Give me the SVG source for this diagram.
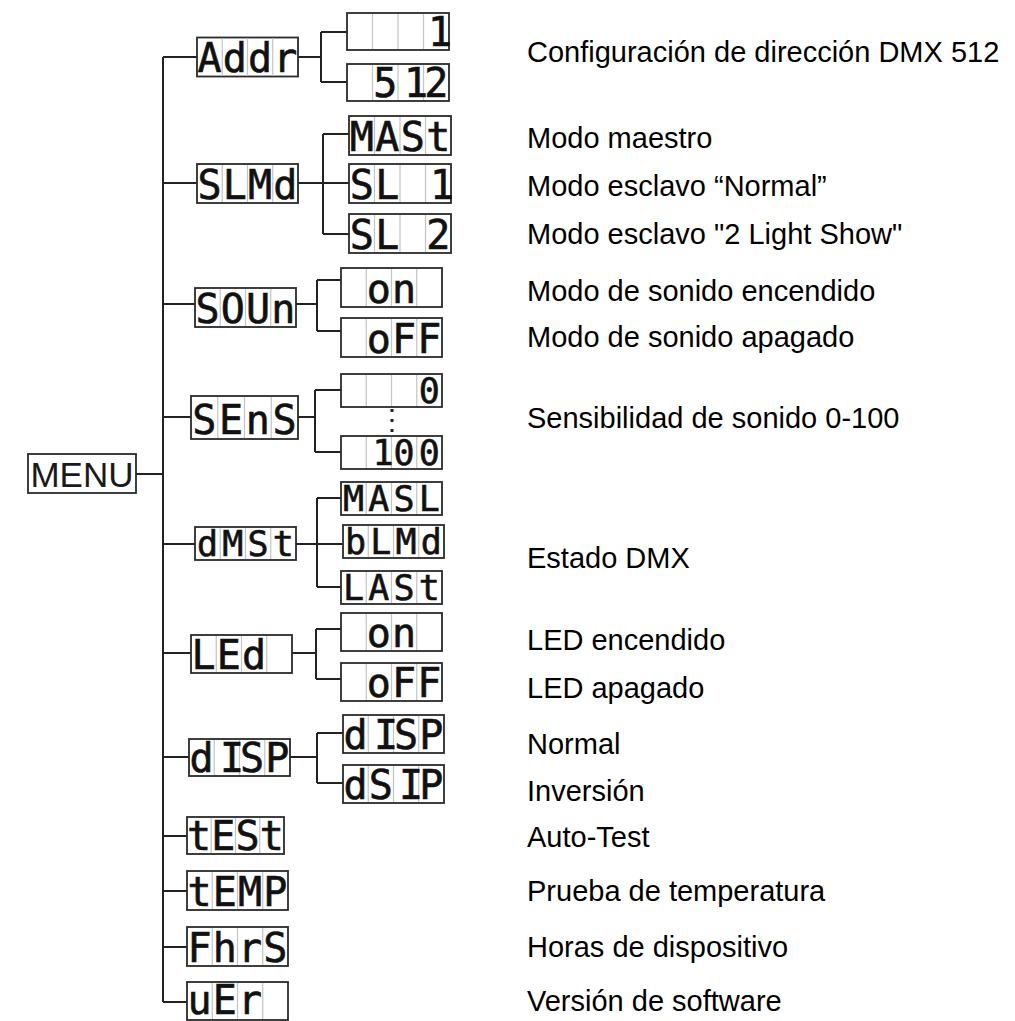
<svg xmlns="http://www.w3.org/2000/svg" width="1015" height="1021" viewBox="0 0 1015 1021">
<style>
.bx{fill:#fff;stroke:#2a2a2a;stroke-width:1.8}
.dv{stroke:#c4c4c4;stroke-width:1.2}
.seg{font-family:"DejaVu Sans Mono","Liberation Mono",monospace;font-size:40px;text-anchor:middle;fill:#111;stroke:#111;stroke-width:0.6}
.sm{font-size:35px}
.cn{fill:none;stroke:#222;stroke-width:2}
.lbl{font-family:"Liberation Sans",Arial,sans-serif;font-size:29px;fill:#000}
.menu{font-family:"Liberation Sans",Arial,sans-serif;font-size:35px;fill:#1a1a1a;text-anchor:middle}
</style>
<rect width="1015" height="1021" fill="#fff"/>
<g id="connectors">
<path class="cn" d="M163,57V1002M136,474H163M163,57H197M163,183H197M163,304H195M163,417H191M163,544H195M163,653H191M163,757H189M163,836H187M163,891H187M163,947H187M163,1002H187"/>
<path class="cn" d="M298,57H321M321,32V82M321,32H347M321,82H347"/>
<path class="cn" d="M298,183H349M323,134V234M323,134H349M323,234H349"/>
<path class="cn" d="M296,304H317M317,280V331M317,280H341M317,331H341"/>
<path class="cn" d="M298,417H315M315,390V452M315,390H341M315,452H341"/>
<path class="cn" d="M296,544H343M317,498V587M317,498H341M317,587H341"/>
<path class="cn" d="M292,653H316M316,629V679M316,629H341M316,679H341"/>
<path class="cn" d="M290,757H317M317,733V783M317,733H343M317,783H343"/>
<rect x="390.5" y="409" width="3" height="3" fill="#222"/>
<rect x="390.5" y="419" width="3" height="3" fill="#222"/>
<rect x="390.5" y="429" width="3" height="3" fill="#222"/>
</g>
<g id="menu"><rect class="bx" x="28" y="454" width="108" height="39"/><text class="menu" x="82" y="487">MENU</text></g>
<g id="addr"><rect class="bx" x="197" y="37.5" width="101" height="39"/><path class="dv" d="M222.25,38V76M247.5,38V76M272.75,38V76"/><text class="seg" x="209.6 234.9 260.1 285.4" y="72">Addr</text></g>
<g id="addr-1"><rect class="bx" x="347" y="13" width="102" height="37"/><path class="dv" d="M372.5,14V49M398,14V49M423.5,14V49"/><text class="seg" x="440" y="46">1</text></g>
<g id="addr-512"><rect class="bx" x="347" y="64" width="102" height="37"/><path class="dv" d="M372.5,65V100M398,65V100M423.5,65V100"/><text class="seg" x="385.25 416 436.25" y="97">512</text></g>
<g id="slmd"><rect class="bx" x="197" y="164" width="101" height="39"/><path class="dv" d="M222.25,165V202M247.5,165V202M272.75,165V202"/><text class="seg" x="209.6 234.9 260.1 285.4" y="199">SLMd</text></g>
<g id="mast"><rect class="bx" x="349" y="116" width="102" height="39"/><path class="dv" d="M374.5,117V154M400,117V154M425.5,117V154"/><text class="seg" x="361.75 387.25 412.75 438.25" y="151">MASt</text></g>
<g id="sl1"><rect class="bx" x="349" y="164" width="102" height="39"/><path class="dv" d="M374.5,165V202M400,165V202M425.5,165V202"/><text class="seg" xml:space="preserve" x="361.75 387.25 412.75 442" y="199">SL 1</text></g>
<g id="sl2"><rect class="bx" x="349" y="214" width="102" height="39"/><path class="dv" d="M374.5,215V252M400,215V252M425.5,215V252"/><text class="seg" xml:space="preserve" x="361.75 387.25 412.75 438.25" y="249">SL 2</text></g>
<g id="soun"><rect class="bx" x="195" y="288" width="101" height="39"/><path class="dv" d="M220.25,289V326M245.5,289V326M270.75,289V326"/><text class="seg" x="207.6 232.9 258.1 283.4" y="323">SOUn</text></g>
<g id="soun-on"><rect class="bx" x="341" y="268" width="101" height="39"/><path class="dv" d="M366.25,269V306M391.5,269V306M416.75,269V306"/><text class="seg" x="378.9 404.1" y="303">on</text></g>
<g id="soun-off"><rect class="bx" x="341" y="318" width="101" height="39"/><path class="dv" d="M366.25,319V356M391.5,319V356M416.75,319V356"/><text class="seg" x="378.9 404.1 429.4" y="353">oFF</text></g>
<g id="sens"><rect class="bx" x="191" y="396" width="107" height="43"/><path class="dv" d="M217.75,397V438M244.5,397V438M271.25,397V438"/><text class="seg" x="204.4 231.1 257.9 284.6" y="434">SEnS</text></g>
<g id="sens-0"><rect class="bx" x="341" y="374" width="101" height="33"/><path class="dv" d="M366.25,375V406M391.5,375V406M416.75,375V406"/><text class="seg sm" x="429.4" y="403">0</text></g>
<g id="sens-100"><rect class="bx" x="341" y="436" width="101" height="33"/><path class="dv" d="M366.25,437V468M391.5,437V468M416.75,437V468"/><text class="seg sm" x="383 404.1 429.4" y="465">100</text></g>
<g id="dmst"><rect class="bx" x="195" y="527" width="101" height="33"/><path class="dv" d="M220.25,528V559M245.5,528V559M270.75,528V559"/><text class="seg sm" x="207.6 232.9 258.1 283.4" y="556">dMSt</text></g>
<g id="masl"><rect class="bx" x="341" y="482" width="101" height="33"/><path class="dv" d="M366.25,483V514M391.5,483V514M416.75,483V514"/><text class="seg sm" x="353.6 378.9 404.1 429.4" y="511">MASL</text></g>
<g id="blmd"><rect class="bx" x="343" y="525" width="101" height="33"/><path class="dv" d="M368.25,526V557M393.5,526V557M418.75,526V557"/><text class="seg sm" x="355.6 380.9 406.1 431.4" y="554">bLMd</text></g>
<g id="last"><rect class="bx" x="341" y="571" width="101" height="33"/><path class="dv" d="M366.25,572V603M391.5,572V603M416.75,572V603"/><text class="seg sm" x="353.6 378.9 404.1 429.4" y="600">LASt</text></g>
<g id="led"><rect class="bx" x="191" y="635" width="101" height="38"/><path class="dv" d="M216.25,636V672M241.5,636V672M266.75,636V672"/><text class="seg" x="203.6 228.9 254.1" y="669">LEd</text></g>
<g id="led-on"><rect class="bx" x="341" y="613" width="101" height="38"/><path class="dv" d="M366.25,614V650M391.5,614V650M416.75,614V650"/><text class="seg" x="378.9 404.1" y="647">on</text></g>
<g id="led-off"><rect class="bx" x="341" y="663" width="101" height="38"/><path class="dv" d="M366.25,664V700M391.5,664V700M416.75,664V700"/><text class="seg" x="378.9 404.1 429.4" y="697">oFF</text></g>
<g id="disp"><rect class="bx" x="189" y="739" width="101" height="37"/><path class="dv" d="M214.25,740V775M239.5,740V775M264.75,740V775"/><text class="seg" x="201.6 232 252.1 277.4" y="772">dISP</text></g>
<g id="disp-normal"><rect class="bx" x="343" y="715" width="101" height="38"/><path class="dv" d="M368.25,716V752M393.5,716V752M418.75,716V752"/><text class="seg" x="355.6 386 406.1 431.4" y="749">dISP</text></g>
<g id="disp-inv"><rect class="bx" x="343" y="765" width="101" height="38"/><path class="dv" d="M368.25,766V802M393.5,766V802M418.75,766V802"/><text class="seg" x="355.6 380.9 411 431.4" y="799">dSIP</text></g>
<g id="test"><rect class="bx" x="187" y="817" width="97" height="37"/><path class="dv" d="M211.25,818V853M235.5,818V853M259.75,818V853"/><text class="seg" x="199.1 223.4 247.6 271.9" y="850">tESt</text></g>
<g id="temp"><rect class="bx" x="187" y="871" width="101" height="39"/><path class="dv" d="M212.25,872V909M237.5,872V909M262.75,872V909"/><text class="seg" x="199.6 224.9 250.1 275.4" y="906">tEMP</text></g>
<g id="fhrs"><rect class="bx" x="187" y="927" width="101" height="39"/><path class="dv" d="M212.25,928V965M237.5,928V965M262.75,928V965"/><text class="seg" x="199.6 224.9 250.1 275.4" y="962">FhrS</text></g>
<g id="uer"><rect class="bx" x="187" y="982" width="101" height="38"/><path class="dv" d="M212.25,983V1019M237.5,983V1019M262.75,983V1019"/><text class="seg" x="199.6 224.9 250.1" y="1014">uEr</text></g>
<g id="labels">
<text class="lbl" x="527" y="62">Configuración de dirección DMX 512</text>
<text class="lbl" x="527" y="148">Modo maestro</text>
<text class="lbl" x="527" y="196">Modo esclavo “Normal”</text>
<text class="lbl" x="527" y="244">Modo esclavo "2 Light Show"</text>
<text class="lbl" x="527" y="301">Modo de sonido encendido</text>
<text class="lbl" x="527" y="347">Modo de sonido apagado</text>
<text class="lbl" x="527" y="428">Sensibilidad de sonido 0-100</text>
<text class="lbl" x="527" y="568">Estado DMX</text>
<text class="lbl" x="527" y="650">LED encendido</text>
<text class="lbl" x="527" y="698">LED apagado</text>
<text class="lbl" x="527" y="754">Normal</text>
<text class="lbl" x="527" y="801">Inversión</text>
<text class="lbl" x="527" y="847">Auto-Test</text>
<text class="lbl" x="527" y="901">Prueba de temperatura</text>
<text class="lbl" x="527" y="957">Horas de dispositivo</text>
<text class="lbl" x="527" y="1011">Versión de software</text>
</g>
</svg>
